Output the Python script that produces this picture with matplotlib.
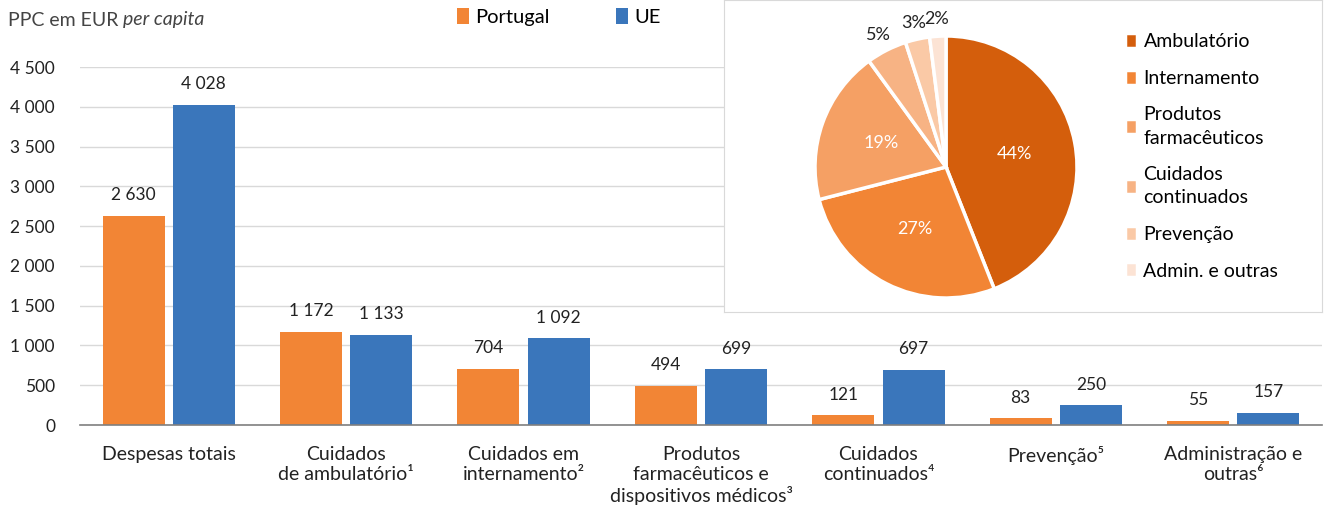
import matplotlib
matplotlib.use("Agg")
import matplotlib.pyplot as plt
import numpy as np

plt.rcParams['font.family'] = ['Lato', 'DejaVu Sans']

categories = ['Despesas totais', 'Cuidados\nde ambulatório¹', 'Cuidados em\ninternamento²',
              'Produtos\nfarmacêuticos e\ndispositivos médicos³', 'Cuidados\ncontinuados⁴',
              'Prevenção⁵', 'Administração e\noutras⁶']
portugal = [2630, 1172, 704, 494, 121, 83, 55]
ue = [4028, 1133, 1092, 699, 697, 250, 157]

pie_labels = ['Ambulatório', 'Internamento', 'Produtos\nfarmacêuticos', 'Cuidados\ncontinuados',
              'Prevenção', 'Admin. e outras']
pie_values = [44, 27, 19, 5, 3, 2]
pie_colors = ['#D45E0C', '#F28535', '#F5A064', '#F7B384', '#FAC9A6', '#FCE3D4']

c_pt = '#F28535'
c_ue = '#3A76BB'
txt = '#222222'

def fmt(v):
    return f'{v:,}'.replace(',', ' ')

fig = plt.figure(figsize=(13.25, 5.13), dpi=100)
ax = fig.add_axes([80/1325, 1-425/513, 1242/1325, 358/513])

x = np.arange(len(categories))
w = 0.35
b1 = ax.bar(x - w/2 - 0.023, portugal, w, color=c_pt, label='Portugal', zorder=2)
b2 = ax.bar(x + w/2 + 0.023, ue, w, color=c_ue, label='UE', zorder=2)
for bars, vals in ((b1, portugal), (b2, ue)):
    for r, v in zip(bars, vals):
        ax.annotate(fmt(v), (r.get_x() + r.get_width()/2, v), xytext=(0, 9),
                    textcoords='offset points', ha='center', va='bottom', fontsize=12.5, color=txt)

ax.set_xlim(-0.5, len(categories) - 0.5)
ax.set_ylim(0, 4500)
ax.set_yticks(range(0, 4501, 500))
ax.set_yticklabels([fmt(v) for v in range(0, 4501, 500)], fontsize=12.5, color=txt)
ax.set_xticks(x)
ax.set_xticklabels(categories, fontsize=14, color=txt, linespacing=1.2, va='top')
ax.tick_params(axis='both', length=0)
ax.tick_params(axis='y', pad=18)
ax.tick_params(axis='x', pad=15)
ax.grid(axis='y', color='#D9D9D9', linewidth=1, zorder=0)
for s in ['top', 'right', 'left']:
    ax.spines[s].set_visible(False)
ax.spines['bottom'].set_color('#7F7F7F')
ax.spines['bottom'].set_linewidth(1.2)

t1 = fig.text(8/1325, 1-20/513, 'PPC em EUR', fontsize=14, color='#444444', va='center')
fig.canvas.draw()
bb = t1.get_window_extent()
fig.text((bb.x1 + 5)/1325, 1-20/513, 'per capita', fontsize=14, color='#444444', va='center', style='italic')
fig.legend(handles=[b1, b2], loc='center left', bbox_to_anchor=(457/1325, 1-17/513), ncol=2,
           frameon=False, fontsize=14.5, handlelength=0.6, handleheight=0.8, handletextpad=0.3,
           columnspacing=3.3, borderaxespad=0, borderpad=0)

# inset box
box = fig.add_axes([724/1325, 1-312/513, 598/1325, 312/513], zorder=3)
box.set_facecolor('white')
box.set_xticks([])
box.set_yticks([])
for s in box.spines.values():
    s.set_color('#D9D9D9')

pax = fig.add_axes([815/1325, 1-298/513, 262/1325, 262/513], zorder=4)
wedges, _ = pax.pie(pie_values, colors=pie_colors, startangle=90, counterclock=False,
                    wedgeprops=dict(edgecolor='white', linewidth=2.5))
for wd, v in zip(wedges, pie_values):
    mid = np.deg2rad((wd.theta1 + wd.theta2) / 2)
    if v >= 10:
        r, col = 0.53, 'white'
    else:
        r, col = 1.13, txt
    pax.text(r*np.cos(mid), r*np.sin(mid), f'{v}%', ha='center', va='center', fontsize=13, color=col)
pax.set_xlim(-1, 1)
pax.set_ylim(-1, 1)
pax.set_aspect('equal')

leg = fig.legend(handles=wedges, labels=pie_labels, loc='upper left', bbox_to_anchor=(1125/1325, 1-33/513),
                 frameon=False, fontsize=14, handlelength=0.6, handleheight=0.8, handletextpad=0.35,
                 labelspacing=1.0, borderaxespad=0, borderpad=0)
for t in leg.get_texts():
    t.set_linespacing(1.45)
leg.set_zorder(5)

fig.savefig('out.png', dpi=100)
